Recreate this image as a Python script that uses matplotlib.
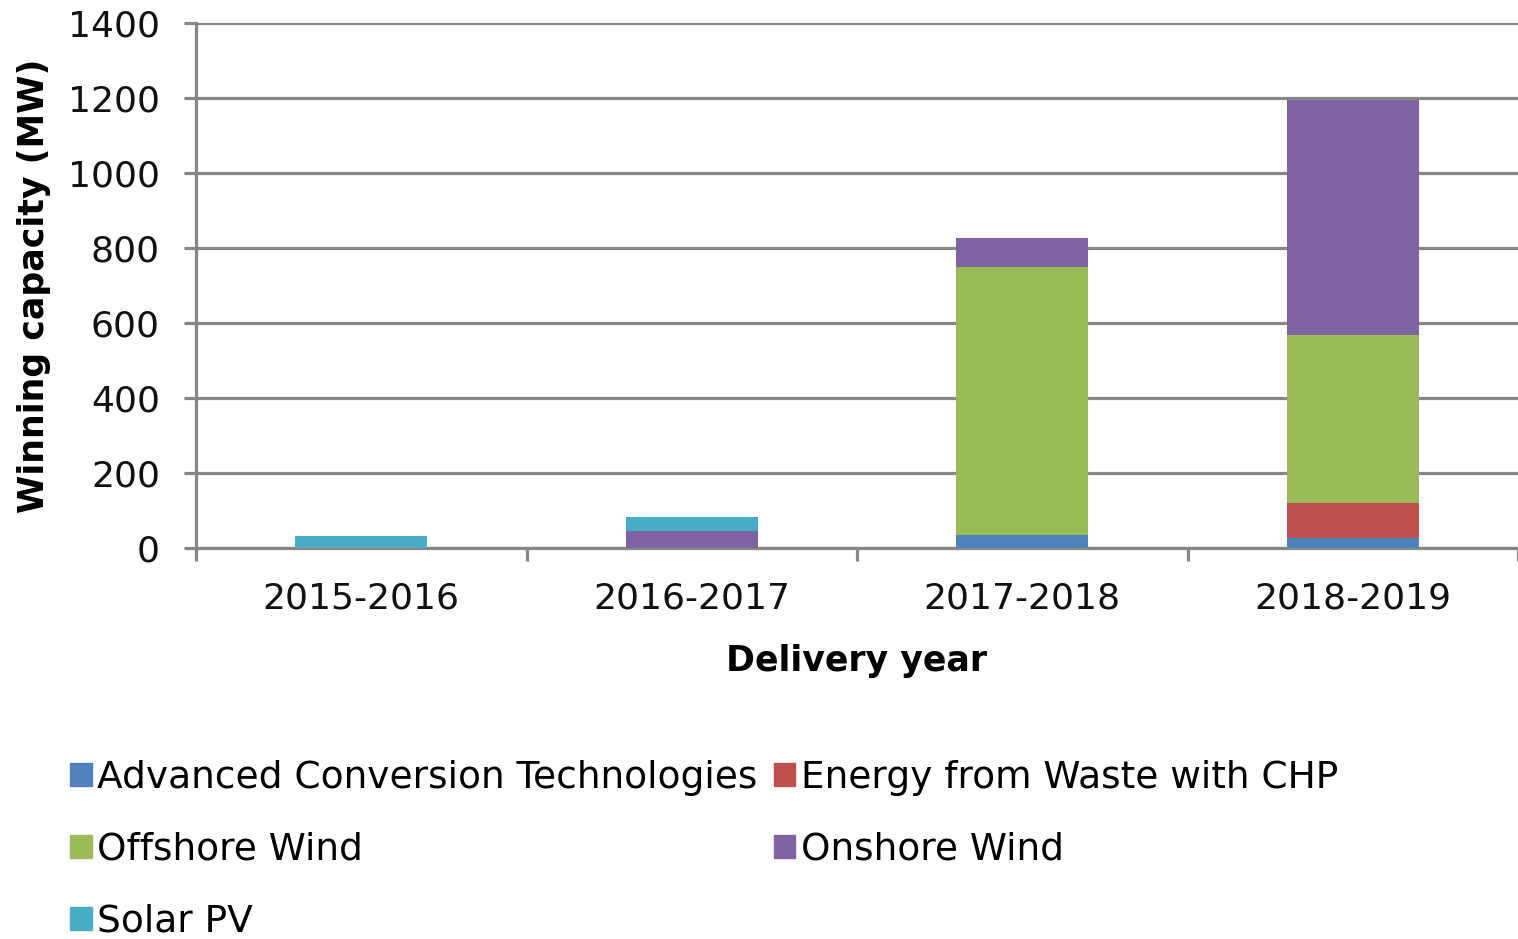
import matplotlib
matplotlib.use("Agg")
import matplotlib.pyplot as plt
from matplotlib.patches import Patch
import numpy as np

# reference text is wide, DejaVu Sans matches its proportions better than Arial-likes
plt.rcParams["font.family"] = ["DejaVu Sans"]

years = ["2015-2016", "2016-2017", "2017-2018", "2018-2019"]
technologies = ["Advanced Conversion Technologies", "Energy from Waste with CHP",
                "Offshore Wind", "Onshore Wind", "Solar PV"]
colors = ["#4F81BD", "#C0504D", "#9BBB59", "#8064A2", "#4BACC6"]

act = [0, 0, 36, 26]
efw = [0, 0, 0, 95]
offshore = [0, 0, 714, 448]
onshore = [0, 45, 78, 626]
solar = [33, 39, 0, 0]
series = [act, efw, offshore, onshore, solar]

fig = plt.figure(figsize=(15.18, 9.39), dpi=100)
ax = fig.add_axes([196 / 1518, 1 - 548 / 939, 1 - 196 / 1518, 525 / 939])

x = np.arange(len(years))
bottom = np.zeros(len(years))
for vals, col in zip(series, colors):
    ax.bar(x, vals, 0.4, bottom=bottom, color=col, zorder=3)
    bottom += np.array(vals)

ax.set_xlim(-0.5, 3.5)
ax.set_ylim(0, 1400)
ax.set_yticks(range(0, 1401, 200))
ax.yaxis.grid(True, color="#868686", linewidth=2.3, zorder=0)
ax.set_axisbelow(True)

for s in ["top", "right"]:
    ax.spines[s].set_visible(False)
ax.spines["left"].set_color("#868686")
ax.spines["left"].set_linewidth(2.3)
ax.spines["bottom"].set_color("#868686")
ax.spines["bottom"].set_linewidth(2.3)

ax.set_xticks(x)
ax.set_xticklabels(years, fontsize=26, color="#111111")
ax.set_xticks(np.arange(-0.5, 3.6, 1), minor=True)
ax.tick_params(axis="x", which="major", length=0, pad=24)
ax.tick_params(axis="x", which="minor", length=9, width=2.3, color="#868686")
ax.tick_params(axis="y", length=9, width=2.3, color="#868686", labelsize=26,
               labelcolor="#111111", pad=17)

ax.set_ylabel("Winning capacity (MW)", fontsize=25, fontweight="bold", labelpad=12)
ax.set_xlabel("Delivery year", fontsize=25, fontweight="bold", labelpad=21)

# legend fills column-wise, so reorder to get row-wise reading
order = [0, 2, 4, 1, 3]
handles = [Patch(color=colors[i]) for i in order]
labels = [technologies[i] for i in order]
fig.legend(handles, labels, ncol=2, loc="upper left", bbox_to_anchor=(55 / 1518, 1 - 745 / 939),
           frameon=False, fontsize=27, handlelength=0.58, handleheight=0.58,
           handletextpad=0.15, columnspacing=0.42, labelspacing=0.96, borderaxespad=0)

fig.savefig("out.png", dpi=100)
